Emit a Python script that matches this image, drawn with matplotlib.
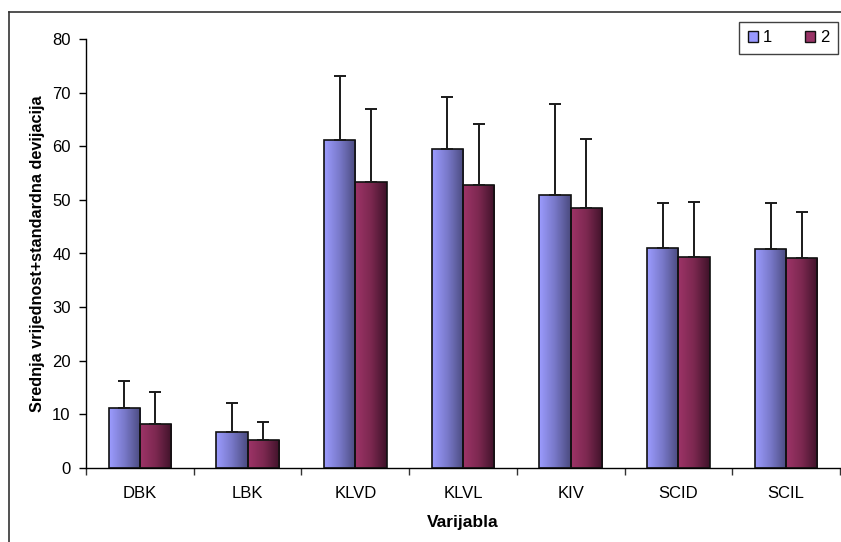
import numpy as np
import matplotlib
matplotlib.use("Agg")
import matplotlib.pyplot as plt
from matplotlib.patches import Rectangle
from matplotlib.lines import Line2D
from matplotlib.colors import LinearSegmentedColormap

plt.rcParams['font.family'] = ['Liberation Sans', 'DejaVu Sans']

categories = ["DBK", "LBK", "KLVD", "KLVL", "KIV", "SCID", "SCIL"]
series_names = ["1", "2"]
mean1 = [11.2, 6.8, 61.1, 59.4, 51.0, 41.1, 40.8]
mean2 = [8.15, 5.15, 53.3, 52.8, 48.4, 39.3, 39.2]
sd1 = [5.0, 5.4, 12.0, 9.7, 16.9, 8.4, 8.7]
sd2 = [6.05, 3.45, 13.6, 11.4, 12.9, 10.3, 8.5]
yticks = [0, 10, 20, 30, 40, 50, 60, 70, 80]

W, H = 841, 542
fig = plt.figure(figsize=(W / 100, H / 100), dpi=100)
ax = fig.add_axes([86 / W, 74 / H, 754 / W, 429 / H])

cmap1 = LinearSegmentedColormap.from_list("c1", ["#9C9CFF", "#7878C8", "#4A4A7E"])
cmap2 = LinearSegmentedColormap.from_list("c2", ["#9E3468", "#7C2850", "#3E1229"])
solid1 = "#9999FF"
solid2 = "#993366"

x = np.arange(len(categories))
bw = 0.29
grad = np.linspace(0, 1, 256).reshape(1, -1)

for means, sds, off, cm in [(mean1, sd1, -bw / 2, cmap1), (mean2, sd2, bw / 2, cmap2)]:
    for xi, m, s in zip(x, means, sds):
        x0 = xi + off - bw / 2
        rect = Rectangle((x0, 0), bw, m, facecolor="none", edgecolor="#111111",
                         linewidth=1.2, zorder=3)
        ax.add_patch(rect)
        im = ax.imshow(grad, cmap=cm, aspect="auto", extent=[x0, x0 + bw, 0, m],
                       zorder=2, interpolation="bicubic")
        im.set_clip_path(rect)
    ax.errorbar(x + off, means, yerr=[np.zeros(len(means)), sds], fmt="none",
                ecolor="#1a1a1a", elinewidth=1.4, capsize=4.5, capthick=1.4, zorder=4)

fs = 12
ax.set_xlim(-0.5, len(categories) - 0.5)
ax.set_ylim(0, 80)
ax.set_yticks(yticks)
ax.set_yticklabels([str(v) for v in yticks], fontsize=fs)
ax.set_xticks(x)
ax.set_xticklabels(categories, fontsize=fs)
ax.set_xticks(np.arange(-0.5, len(categories) + 0.5, 1), minor=True)
ax.tick_params(axis="x", which="major", length=0, pad=13)
ax.tick_params(axis="x", which="minor", length=5, width=1, direction="out", color="#333333")
ax.tick_params(axis="y", length=5, width=1, direction="out", pad=6)
for sp in ["top", "right"]:
    ax.spines[sp].set_visible(False)
ax.spines["left"].set_linewidth(1.0)
ax.spines["bottom"].set_linewidth(1.0)

ax.set_xlabel("Varijabla", fontsize=12.5, fontweight="bold", labelpad=10)
ax.set_ylabel("Srednja vrijednost+standardna devijacija", fontsize=11.7,
              fontweight="bold", labelpad=5)

handles = [Rectangle((0, 0), 1, 1, facecolor=solid1, edgecolor="#111111"),
           Rectangle((0, 0), 1, 1, facecolor=solid2, edgecolor="#111111")]
leg = fig.legend(handles, series_names, loc="upper right",
                 bbox_to_anchor=(838 / W, 1 - 22 / H), ncol=2, fontsize=fs,
                 frameon=True, fancybox=False, edgecolor="#111111",
                 handlelength=0.6, handleheight=0.6, handletextpad=0.3,
                 columnspacing=2.0, borderpad=0.5, borderaxespad=0)
leg.get_frame().set_linewidth(1.0)

# outer chart frame (extends beyond image at right/bottom)
fig.add_artist(Line2D([9 / W, 9 / W], [0, 1 - 12 / H], color="#333333", linewidth=1.2))
fig.add_artist(Line2D([9 / W, 1], [1 - 12 / H, 1 - 12 / H], color="#333333", linewidth=1.2))

fig.savefig("out.png", dpi=100)
